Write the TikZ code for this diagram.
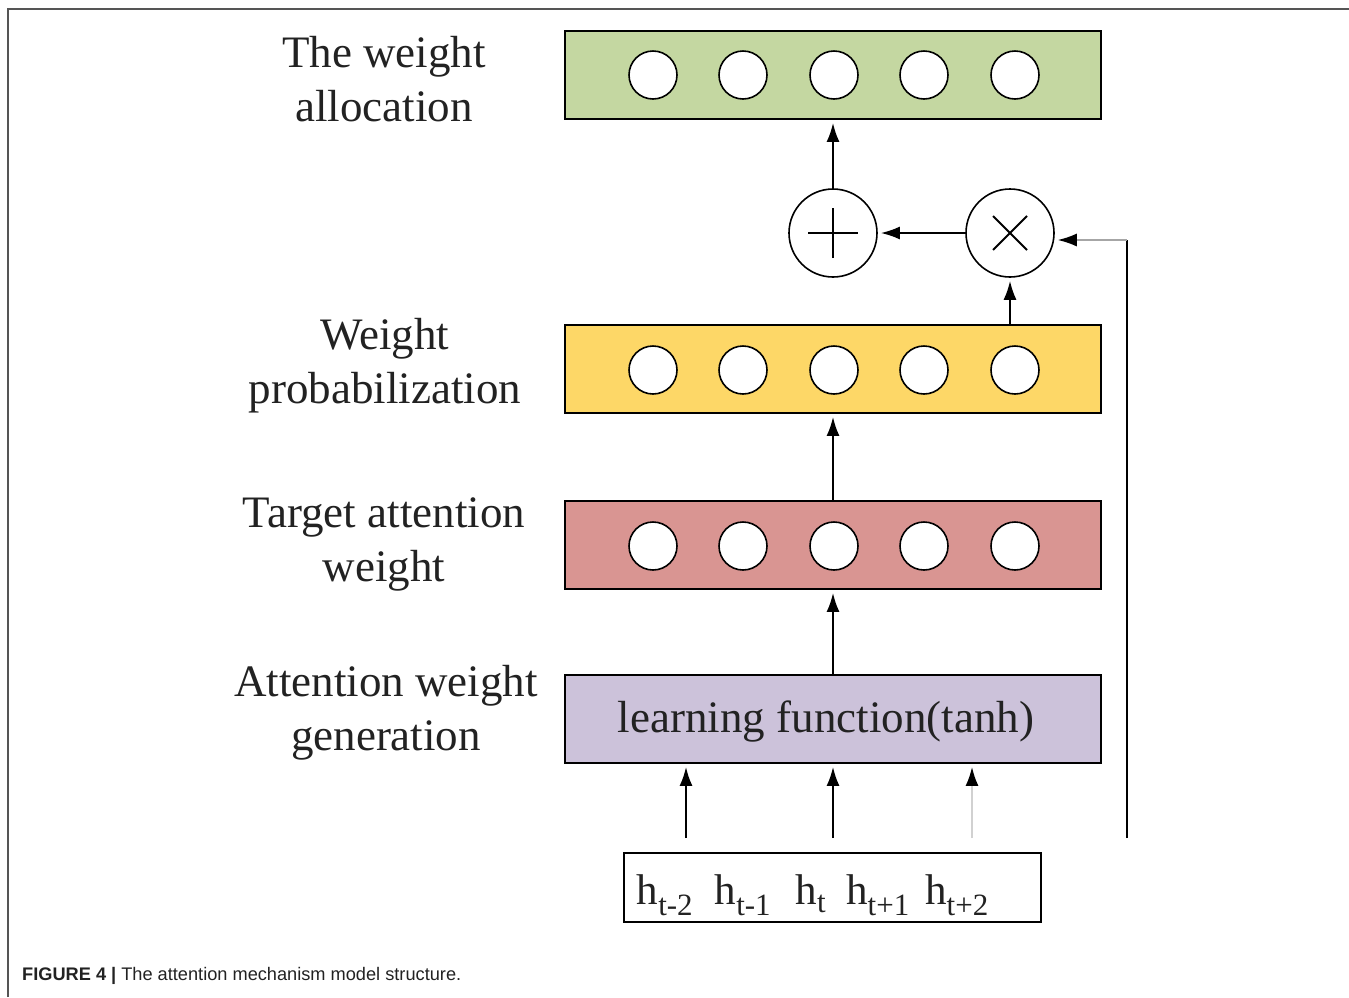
\documentclass[tikz,border=0pt]{standalone}
\usepackage{fontspec}
\setmainfont{Liberation Serif}
\newfontfamily\capfont{Liberation Sans}
\usetikzlibrary{arrows.meta}

\definecolor{allocgreen}{HTML}{C4D7A1}
\definecolor{probyellow}{HTML}{FDD767}
\definecolor{targetred}{HTML}{D99592}
\definecolor{genpurple}{HTML}{CCC2DA}
\definecolor{inkgray}{HTML}{222222}
\definecolor{framegray}{HTML}{555555}

\tikzset{
  layerbox/.style={draw=black, line width=1.8pt, minimum width=536pt, minimum height=88pt, inner sep=0pt},
  unit/.style={circle, draw=black, fill=white, line width=1.6pt, minimum size=48pt, inner sep=0pt},
  opnode/.style={circle, draw=black, fill=white, line width=1.6pt, minimum size=88pt, inner sep=0pt},
  label/.style={align=center, text=inkgray, font=\fontsize{45}{54}\selectfont},
  tip/.style={-{Latex[length=19pt,width=13pt,color=black]}},
  flow/.style={line width=2pt, tip, shorten >=3pt},
  hbox/.style={draw=black, line width=1.6pt, minimum width=417pt, minimum height=69pt, inner sep=0pt},
  hlabel/.style={text=inkgray, font=\fontsize{43}{48}\selectfont, anchor=base, inner sep=0pt}
}

\newcommand{\hsub}[1]{h\textsubscript{\fontsize{31}{31}\selectfont #1}}

\begin{document}
\begin{tikzpicture}[x=1pt, y=-1pt]
\useasboundingbox (0,0) rectangle (1349,997);

% page frame
\draw[framegray, line width=1.5pt] (8,997) -- (8,9) -- (1349,9);

% layers
\node[layerbox, fill=allocgreen] (alloc) at (833,75) {};
\node[layerbox, fill=probyellow] (prob) at (833,369) {};
\node[layerbox, fill=targetred] (target) at (833,545) {};
\node[layerbox, fill=genpurple] (gen) at (833,719) {};
\node[text=inkgray, font=\fontsize{45}{48}\selectfont] (genText) at (826,721) {learning function(tanh)};

% units inside the layers
\foreach \i/\x in {1/653,2/743,3/834,4/924,5/1015}{
  \node[unit] (a\i) at (\x,75) {};
  \node[unit] (p\i) at (\x,370) {};
  \node[unit] (t\i) at (\x,546) {};
}

% combination operators
\node[opnode] (plus) at (833,233) {};
\node[opnode] (times) at (1010,233) {};
\draw[line width=2.2pt] ([xshift=-25pt]plus.center) -- ([xshift=25pt]plus.center);
\draw[line width=2.2pt] ([yshift=-25pt]plus.center) -- ([yshift=25pt]plus.center);
\draw[line width=2pt] ([shift={(-17pt,-17pt)}]times.center) -- ([shift={(17pt,17pt)}]times.center);
\draw[line width=2pt] ([shift={(-17pt,17pt)}]times.center) -- ([shift={(17pt,-17pt)}]times.center);

% input sequence
\node[hbox] (hseq) at (832.5,887.5) {};
\node[hlabel] (h1) at (665,904) {\hsub{t-2}};
\node[hlabel] (h2) at (743,904) {\hsub{t-1}};
\node[hlabel] (h3) at (811,904) {\hsub{t}};
\node[hlabel] (h4) at (878,904) {\hsub{t+1}};
\node[hlabel] (h5) at (957,904) {\hsub{t+2}};

% input taps and the residual path
\coordinate (in1) at (686,838);
\coordinate (in2) at (833,838);
\coordinate (in3) at (972,838);
\coordinate (skipfoot) at (1127,838);
\coordinate (skipturn) at (1127,240);

\draw[flow] (in1) -- (in1 |- gen.south);
\draw[flow] (in2) -- (in2 |- gen.south);
\draw[flow, black!18] (in3) -- (in3 |- gen.south);

\draw[flow] (gen.north) -- (target.south);
\draw[flow] (target.north) -- (prob.south);
\draw[flow] (prob.north -| times.south) -- (times.south);
\draw[flow] (times.west) -- (plus.east);
\draw[flow] (plus.north) -- (alloc.south);
\draw[line width=2pt] (skipfoot) -- (skipturn);
\draw[flow, line width=1.5pt, black!35] (skipturn) -- (times.east |- skipturn);

% layer captions
\node[label] (lAlloc) at (384,79) {The weight\\allocation};
\node[label] (lProb) at (385,366) {Weight\\probabilization};
\node[label] (lTarget) at (384,544) {Target attention\\weight};
\node[label] (lGen) at (386,713) {Attention weight\\generation};

% figure caption
\node[anchor=base west, inner sep=0pt, text=inkgray, font=\capfont\fontsize{18.2}{20}\selectfont] (cap) at (22,980) {\textbf{FIGURE 4 |} The attention mechanism model structure.};
\end{tikzpicture}
\end{document}
